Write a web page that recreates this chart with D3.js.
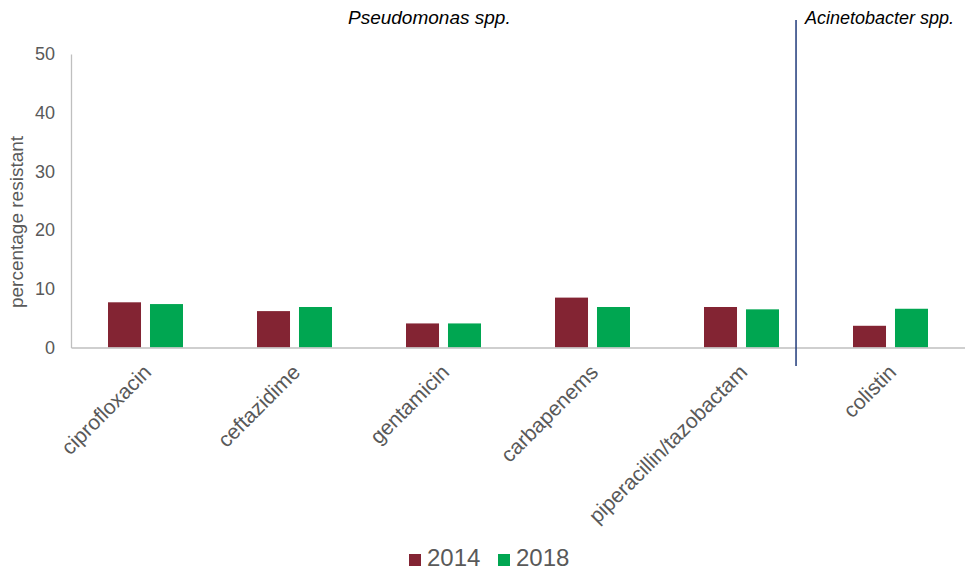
<!DOCTYPE html>
<html>
<head>
<meta charset="utf-8">
<script src="https://cdn.jsdelivr.net/npm/d3@7"></script>
<style>
  html, body { margin: 0; padding: 0; background: #fff; }
  svg { display: block; font-family: "Liberation Sans", Arial, sans-serif; }
</style>
</head>
<body>
<svg id="chart" width="965" height="574"></svg>
<script>
const categories = ["ciprofloxacin", "ceftazidime", "gentamicin", "carbapenems", "piperacillin/tazobactam", "colistin"];
const seriesNames = ["2014", "2018"];
const values2014 = [7.7, 6.2, 4.1, 8.5, 6.9, 3.7];
const values2018 = [7.4, 6.9, 4.1, 6.9, 6.5, 6.6];
const yTicks = [0, 10, 20, 30, 40, 50];
const groupLabels = ["Pseudomonas spp.", "Acinetobacter spp."];
const colors = ["#832433", "#00a651"];

const svg = d3.select("#chart");
const mLeft = 71, mRight = 965, mTop = 54, mBottom = 347.5;

const x0 = d3.scaleBand().domain(categories).range([mLeft, mRight]).padding(0);
const x1 = d3.scaleBand().domain(seriesNames).range([37, 112]).paddingInner(0.214).paddingOuter(0);
const y = d3.scaleLinear().domain([0, 50]).range([mBottom, mTop]);
const xu = d3.scaleLinear().domain([0, categories.length]).range([mLeft, mRight]);

// y axis
const yAxis = d3.axisLeft(y).tickValues(yTicks).tickSize(0).tickPadding(16);
const gy = svg.append("g").attr("transform", `translate(${mLeft},0)`).call(yAxis);
gy.select(".domain").attr("stroke", "#bfbfbf").attr("stroke-width", 1.3);
gy.selectAll("text").attr("fill", "#595959").attr("font-size", 18).attr("font-family", "Liberation Sans, Arial, sans-serif");

// y title
svg.append("text")
  .attr("transform", `translate(23,222) rotate(-90)`)
  .attr("text-anchor", "middle")
  .attr("fill", "#595959")
  .attr("font-size", 19)
  .text("percentage resistant");

// bars
const data = categories.map((c, i) => ({ cat: c, vals: [values2014[i], values2018[i]] }));
const groups = svg.append("g").selectAll("g").data(data).join("g")
  .attr("transform", d => `translate(${x0(d.cat)},0)`);
groups.selectAll("rect").data(d => d.vals.map((v, j) => ({ s: seriesNames[j], v, j })))
  .join("rect")
  .attr("x", d => x1(d.s))
  .attr("width", x1.bandwidth())
  .attr("y", d => y(d.v))
  .attr("height", d => y(0) - y(d.v))
  .attr("fill", d => colors[d.j]);

// x axis baseline
const xAxis = d3.axisBottom(x0).tickSize(0).tickPadding(0);
const gx = svg.append("g").attr("transform", `translate(0,${mBottom})`).call(xAxis);
gx.select(".domain").attr("stroke", "#bfbfbf").attr("stroke-width", 1.3);
gx.selectAll("text")
  .attr("fill", "#595959")
  .attr("font-size", 21)
  .attr("font-family", "Liberation Sans, Arial, sans-serif")
  .attr("text-anchor", "end")
  .attr("dy", 0)
  .attr("transform", "translate(7,26) rotate(-45)");

// divider
const divX = xu(4.866);
svg.append("line")
  .attr("x1", divX).attr("x2", divX)
  .attr("y1", 20).attr("y2", 366)
  .attr("stroke", "#1f3a7a").attr("stroke-width", 1.5);

// group labels
svg.append("text").attr("x", 348).attr("y", 24)
  .attr("font-style", "italic").attr("font-size", 19).attr("fill", "#000")
  .text(groupLabels[0]);
svg.append("text").attr("x", divX + 9).attr("y", 24)
  .attr("font-style", "italic").attr("font-size", 18).attr("fill", "#000")
  .text(groupLabels[1]);

// legend
const legend = svg.append("g");
const legX = [409, 498];
seriesNames.forEach((s, i) => {
  legend.append("rect").attr("x", legX[i]).attr("y", 554).attr("width", 12).attr("height", 12).attr("fill", colors[i]);
  legend.append("text").attr("x", legX[i] + 18).attr("y", 566)
    .attr("font-size", 24).attr("fill", "#595959").text(s);
});
</script>
</body>
</html>
